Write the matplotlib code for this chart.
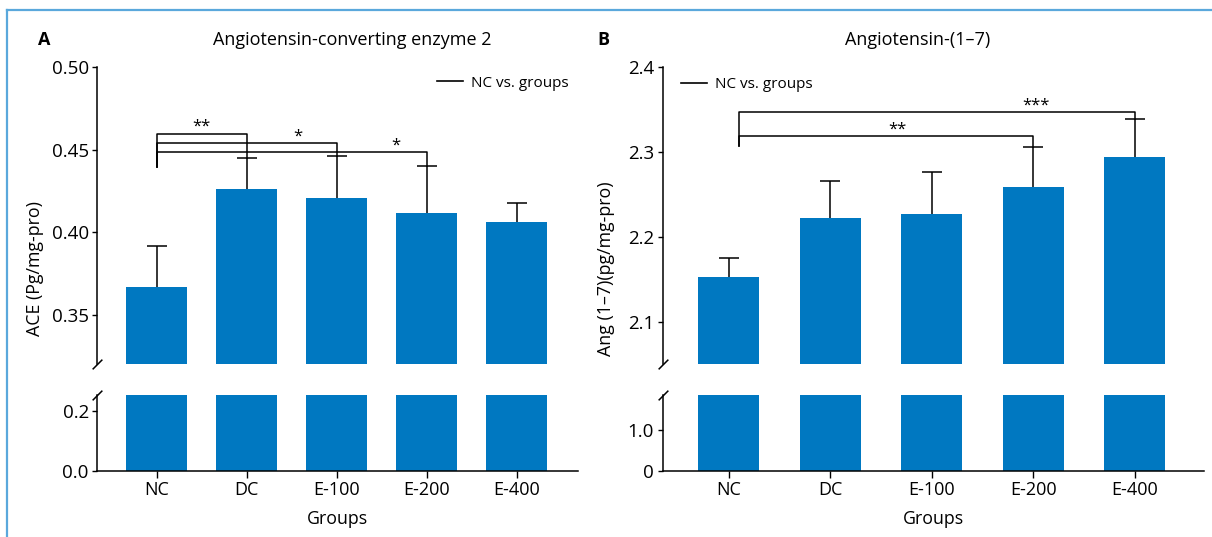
import numpy as np
import matplotlib.pyplot as plt
from matplotlib.lines import Line2D

plt.rcParams['font.family'] = ['Open Sans', 'DejaVu Sans']

# data
groups = ['NC', 'DC', 'E-100', 'E-200', 'E-400']
ace_mean = [0.367, 0.426, 0.421, 0.412, 0.406]
ace_sd = [0.025, 0.019, 0.025, 0.028, 0.012]
ang_mean = [2.153, 2.222, 2.227, 2.259, 2.294]
ang_sd = [0.023, 0.044, 0.050, 0.047, 0.045]

# significance vs NC: (group index, stars)
ace_sig = [(1, '**'), (2, '*'), (3, '*')]
ang_sig = [(3, '**'), (4, '***')]

BLUE = '#0078c1'
W, H = 1212, 537

fig = plt.figure(figsize=(W / 100, H / 100), dpi=100)


def px_rect(x0, x1, ytop, ybot):
    return [x0 / W, 1 - ybot / H, (x1 - x0) / W, (ybot - ytop) / H]


def style(ax):
    for s in ['top', 'right']:
        ax.spines[s].set_visible(False)
    ax.spines['left'].set_linewidth(1.1)
    ax.spines['bottom'].set_linewidth(1.1)
    ax.tick_params(axis='y', length=3.6, width=1.0, pad=2.5, labelsize=13.5)
    ax.tick_params(axis='x', length=5, width=1.0, pad=2.5, labelsize=13)


def panel(x0, x1, width, means, sds, up_lim, up_ticks, up_fmt, lo_lim, lo_ticks, lo_labels,
          xlim, sig, br_y, nc_leg, nc_dx, star_x, leg_xy, title, title_x, letter, letter_x,
          ylabel, ylab_x):
    x = np.arange(len(groups))
    means = np.array(means)
    tops = means + np.array(sds)
    up = fig.add_axes(px_rect(x0, x1, 66.8, 364))
    lo = fig.add_axes(px_rect(x0, x1, 395, 470.7))
    for ax in (up, lo):
        ax.bar(x, means, width=width, color=BLUE, zorder=2)
        ax.set_xlim(*xlim)
        style(ax)
    # upper error bars only (stem + top cap)
    up.vlines(x, means, tops, color='black', lw=1.1, zorder=3)
    up.plot(x, tops, linestyle='none', marker='_', markersize=14, mew=1.1, color='black', zorder=3)
    up.set_ylim(*up_lim)
    up.set_yticks(up_ticks)
    up.set_yticklabels([up_fmt.format(t) for t in up_ticks])
    up.spines['bottom'].set_visible(False)
    up.set_xticks([])
    lo.set_ylim(*lo_lim)
    lo.set_yticks(lo_ticks)
    lo.set_yticklabels(lo_labels)
    lo.set_xticks(x)
    lo.set_xticklabels(groups)

    # axis break marks
    kw = dict(marker=[(-1, -1), (1, 1)], markersize=7, color='black', mew=1.1,
              linestyle='none', clip_on=False)
    up.plot([0], [0], transform=up.transAxes, **kw)
    lo.plot([0], [1], transform=lo.transAxes, **kw)

    # significance brackets
    for (i, stars), yb, sx in zip(sig, br_y, star_x):
        up.plot([nc_dx, nc_dx, i, i], [nc_leg, yb, yb, tops[i]], color='black', lw=1.1,
                clip_on=False, zorder=4)
        up.annotate(stars, (sx, yb), xytext=(0, -1), textcoords='offset points',
                    ha='center', va='bottom', fontsize=12)

    up.legend(handles=[Line2D([], [], color='black', lw=1.2)], labels=['NC vs. groups'],
              loc='center left', bbox_to_anchor=leg_xy, frameon=False, fontsize=11,
              handlelength=1.7, handletextpad=0.5, borderpad=0, borderaxespad=0)

    fig.text(letter_x / W, 1 - 40 / H, letter, fontsize=13, fontweight='bold', va='center')
    fig.text(title_x / W, 1 - 40 / H, title, fontsize=13, ha='center', va='center')
    fig.text(ylab_x / W, 1 - 269 / H, ylabel, fontsize=12.8, rotation=90, ha='center', va='center')
    fig.text((x0 + x1) / 2 / W, 1 - 519 / H, 'Groups', fontsize=12.8, ha='center', va='center')


panel(97.3, 577.8, 0.68, ace_mean, ace_sd, (0.3205, 0.50), [0.35, 0.40, 0.45, 0.50], '{:.2f}',
      (0, 0.254), [0.0, 0.2], ['0.0', '0.2'], (-0.66, 4.68), ace_sig,
      [0.4597, 0.4537, 0.4485], 0.4396, 0.0, [0.5, 1.57, 2.66], (0.708, 0.945),
      'Angiotensin-converting enzyme 2', 352, 'A', 38, 'ACE (Pg/mg-pro)', 35)

panel(662.5, 1204, 0.6, ang_mean, ang_sd, (2.051, 2.4), [2.1, 2.2, 2.3, 2.4], '{:.1f}',
      (0, 1.88), [0, 1.0], ['0', '1.0'], (-0.65, 4.68), ang_sig,
      [2.319, 2.347], 2.307, 0.1, [1.66, 3.03], (0.034, 0.939),
      'Angiotensin-(1\u20137)', 918, 'B', 597, 'Ang (1\u20137)(pg/mg-pro)', 606)

# light blue frame
fc = '#5aa8dc'
fig.add_artist(Line2D([7 / W, 7 / W], [0, 1 - 9.6 / H], transform=fig.transFigure, color=fc, lw=1.6))
fig.add_artist(Line2D([7 / W, 1], [1 - 9.6 / H, 1 - 9.6 / H], transform=fig.transFigure, color=fc, lw=1.6))

fig.savefig('out.png', dpi=100)
